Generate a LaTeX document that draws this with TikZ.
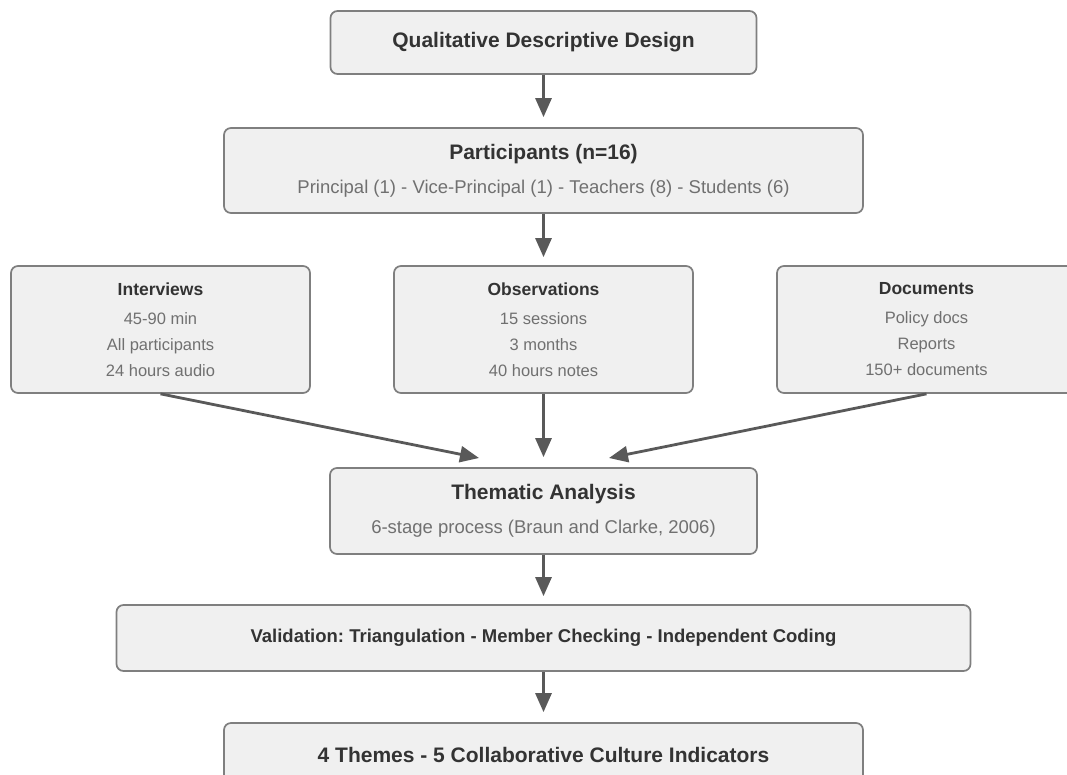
\documentclass[tikz,border=0pt]{standalone}
\usepackage{fontspec}
\setmainfont{Liberation Sans}
\usetikzlibrary{arrows.meta}
\frenchspacing
\definecolor{boxfill}{HTML}{F0F0F0}
\definecolor{boxline}{HTML}{7F7F7F}
\definecolor{arrowgray}{HTML}{595959}
\definecolor{titlegray}{HTML}{333333}
\definecolor{bodygray}{HTML}{707070}
\tikzset{
  stage/.style={draw=boxline, fill=boxfill, rounded corners=7pt, line width=1.7pt,
    align=center, inner sep=0pt, text=bodygray},
  widestage/.style={stage, font=\fontsize{18.5}{34}\selectfont},
  srcstage/.style={stage, minimum width=299pt, minimum height=127pt,
    font=\fontsize{16.5}{26}\selectfont},
  flow/.style={->, draw=arrowgray, line width=2.8pt},
}
\newcommand{\hd}[1]{\textcolor{titlegray}{\bfseries\fontsize{21}{34}\selectfont #1}}
\newcommand{\sh}[1]{\textcolor{titlegray}{\bfseries\fontsize{17.5}{26}\selectfont #1}}
\begin{document}
\begin{tikzpicture}[x=1pt,y=-1pt,>={Triangle[length=19pt,width=16pt]}]
		\useasboundingbox (0,0) rectangle (1067,774);
		\node[widestage, minimum width=426pt, minimum height=63pt] (design) at (543.5,42.5) {\hd{Qualitative Descriptive Design}};
		\node[widestage, minimum width=639pt, minimum height=85pt] (participants) at (543.5,170.5)
			{\hd{Participants (n=16)}\\Principal (1) - Vice-Principal (1) - Teachers (8) - Students (6)};
		\node[srcstage] (interviews) at (160.5,329.5) {\sh{Interviews}\\[3pt]45-90 min\\All participants\\24 hours audio};
		\node[srcstage] (observations) at (543.5,329.5) {\sh{Observations}\\[3pt]15 sessions\\3 months\\40 hours notes};
		\node[srcstage] (documents) at (926.5,329.5) {\sh{Documents}\\[3pt]Policy docs\\Reports\\150+ documents};
		\node[widestage, minimum width=427pt, minimum height=86pt] (thematic) at (543.5,511)
			{\hd{Thematic Analysis}\\6-stage process (Braun and Clarke, 2006)};
		\node[stage, minimum width=854pt, minimum height=66pt] (validation) at (543.5,638)
			{\textcolor{titlegray}{\bfseries\fontsize{18.5}{26}\selectfont Validation: Triangulation - Member Checking - Independent Coding}};
		\node[widestage, minimum width=639pt, minimum height=63pt] (themes) at (543.5,754.5)
			{\hd{4 Themes - 5 Collaborative Culture Indicators}};
		% where the side arrows meet above the analysis box
		\coordinate (joinL) at (479,458);
		\coordinate (joinR) at (609,458);
		\draw[flow, shorten >=10pt] (design.south) -- (participants.north);
		\draw[flow, shorten >=8pt] (participants.south) -- (observations.north);
		\draw[flow] (interviews.south) -- (joinL);
		\draw[flow, shorten >=10pt] (observations.south) -- (thematic.north);
		\draw[flow] (documents.south) -- (joinR);
		\draw[flow, shorten >=8pt] (thematic.south) -- (validation.north);
		\draw[flow, shorten >=10pt] (validation.south) -- (themes.north);
		\end{tikzpicture}
\end{document}
